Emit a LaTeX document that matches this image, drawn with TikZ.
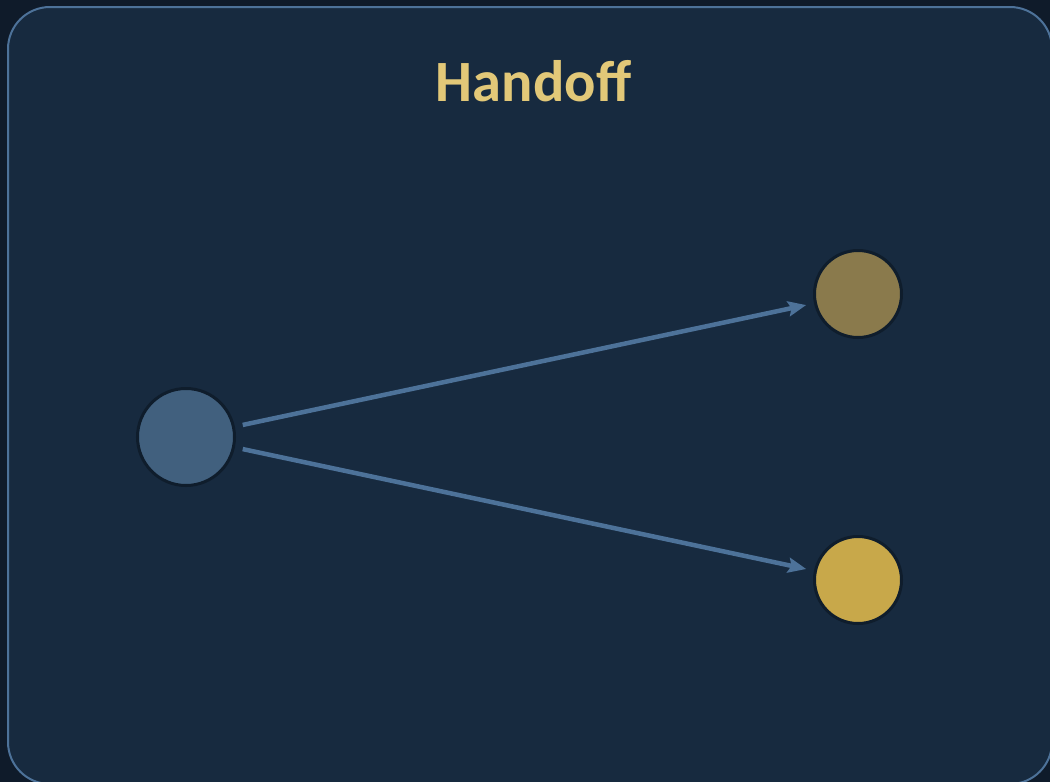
\documentclass[tikz,border=0pt]{standalone}
\usepackage{fontspec}
\setmainfont{Carlito}
\usetikzlibrary{arrows.meta}
\definecolor{outerbg}{HTML}{0F1B2A}
\definecolor{panel}{HTML}{172A3F}
\definecolor{edgeblue}{HTML}{4D7299}
\definecolor{ringdark}{HTML}{0F1D2C}
\definecolor{srcfill}{HTML}{41607E}
\definecolor{olivefill}{HTML}{8A7A4C}
\definecolor{goldfill}{HTML}{C8A84A}
\definecolor{titlegold}{HTML}{E2C878}
\tikzset{
  dot/.style={circle, draw=ringdark, line width=3pt, inner sep=0pt},
  flow/.style={draw=edgeblue, line width=4.5pt, -{Stealth[length=18pt,width=15pt,inset=3pt]}, shorten >=8pt, shorten <=8pt},
}
\begin{document}
\begin{tikzpicture}[x=1pt,y=1pt]
\useasboundingbox (0,0) rectangle (1050,-782);
\fill[outerbg] (0,0) rectangle (1050,-782);
\draw[edgeblue, fill=panel, line width=2pt, rounded corners=42pt] (8,-7) rectangle (1052,-784);
\node[anchor=base, text=titlegold, font=\bfseries\fontsize{58.5}{60}\selectfont] (title) at (533.5,-101) {Handoff};
\node[dot, fill=srcfill, minimum size=97pt] (src) at (186,-437) {};
\node[dot, fill=olivefill, minimum size=87pt] (top) at (858,-294) {};
\node[dot, fill=goldfill, minimum size=87pt] (bot) at (858,-580) {};
\draw[flow] (src) -- (top);
\draw[flow] (src) -- (bot);
\end{tikzpicture}
\end{document}
